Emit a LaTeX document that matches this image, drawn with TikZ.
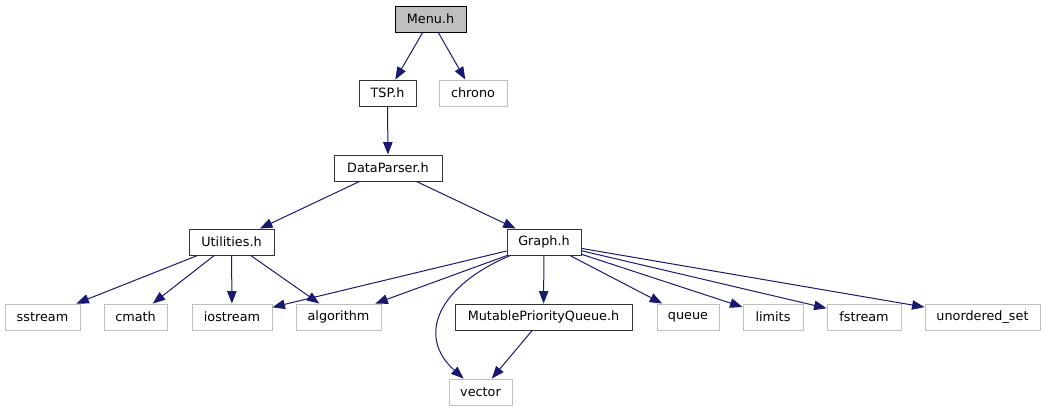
\documentclass[tikz,border=0pt]{standalone}
\usepackage{fontspec}
\setmainfont{DejaVu Sans}
\usetikzlibrary{arrows.meta}
\definecolor{edgeblue}{HTML}{191970}
\definecolor{extgrey}{HTML}{BFBFBF}
\definecolor{docborder}{HTML}{333333}
\begin{document}
\begin{tikzpicture}[x=1pt,y=-1pt,
  base/.style={rectangle, minimum height=26pt, inner sep=0pt, line width=0.9pt,
    font=\fontsize{12.8}{15}\selectfont, text=black},
  doc/.style={base, draw=docborder, fill=white},
  ext/.style={base, draw=extgrey, fill=white},
  root/.style={base, draw=black, fill=extgrey},
  edge/.style={draw=edgeblue, line width=1pt, -{Triangle[length=12.5pt,width=9.5pt,fill=edgeblue]}}
]
\useasboundingbox (0,0) rectangle (1045,411);
\node[root, minimum width=71pt] (menu) at (430.5,19) {Menu.h};
\node[doc, minimum width=57pt] (tsp) at (387.5,93) {TSP.h};
\node[ext, minimum width=68pt] (chrono) at (473,93) {chrono};
\node[doc, minimum width=108pt] (dp) at (388,168) {DataParser.h};
\node[doc, minimum width=85pt] (util) at (231.5,242) {Utilities.h};
\node[doc, minimum width=74pt] (graph) at (544,242) {Graph.h};
\node[ext, minimum width=75pt] (sstream) at (42.5,317) {sstream};
\node[ext, minimum width=63pt] (cmath) at (135.5,317) {cmath};
\node[ext, minimum width=80pt] (iostream) at (232,317) {iostream};
\node[ext, minimum width=85pt] (algorithm) at (338.5,317) {algorithm};
\node[doc, minimum width=177pt] (mpq) at (543.5,317) {MutablePriorityQueue.h};
\node[ext, minimum width=62pt] (queue) at (688,317) {queue};
\node[ext, minimum width=60pt] (limits) at (773,317) {limits};
\node[ext, minimum width=74pt] (fstream) at (864,317) {fstream};
\node[ext, minimum width=115pt] (uset) at (982.5,317) {unordered\_set};
\node[ext, minimum width=63pt] (vector) at (480.5,392) {vector};

\draw[edge] (menu) -- (tsp);
\draw[edge] (menu) -- (chrono);
\draw[edge] (tsp) -- (dp);
\draw[edge] (dp) -- (util);
\draw[edge] (dp) -- (graph);
\draw[edge] (util) -- (sstream);
\draw[edge] (util) -- (cmath);
\draw[edge] (util) -- (iostream);
\draw[edge] (util) -- (algorithm);
\draw[edge] (graph) -- (iostream);
\draw[edge] (graph) -- (algorithm);
\draw[edge] ([xshift=4pt]graph.south west) .. controls (440,285) and (415,335) .. ([xshift=15pt]vector.north west);
\draw[edge] (graph) -- (mpq);
\draw[edge] (graph) -- (queue);
\draw[edge] (graph) -- (limits);
\draw[edge] (graph) -- (fstream);
\draw[edge] (graph) -- (uset);
\draw[edge] (mpq) -- (vector);
\end{tikzpicture}
\end{document}
